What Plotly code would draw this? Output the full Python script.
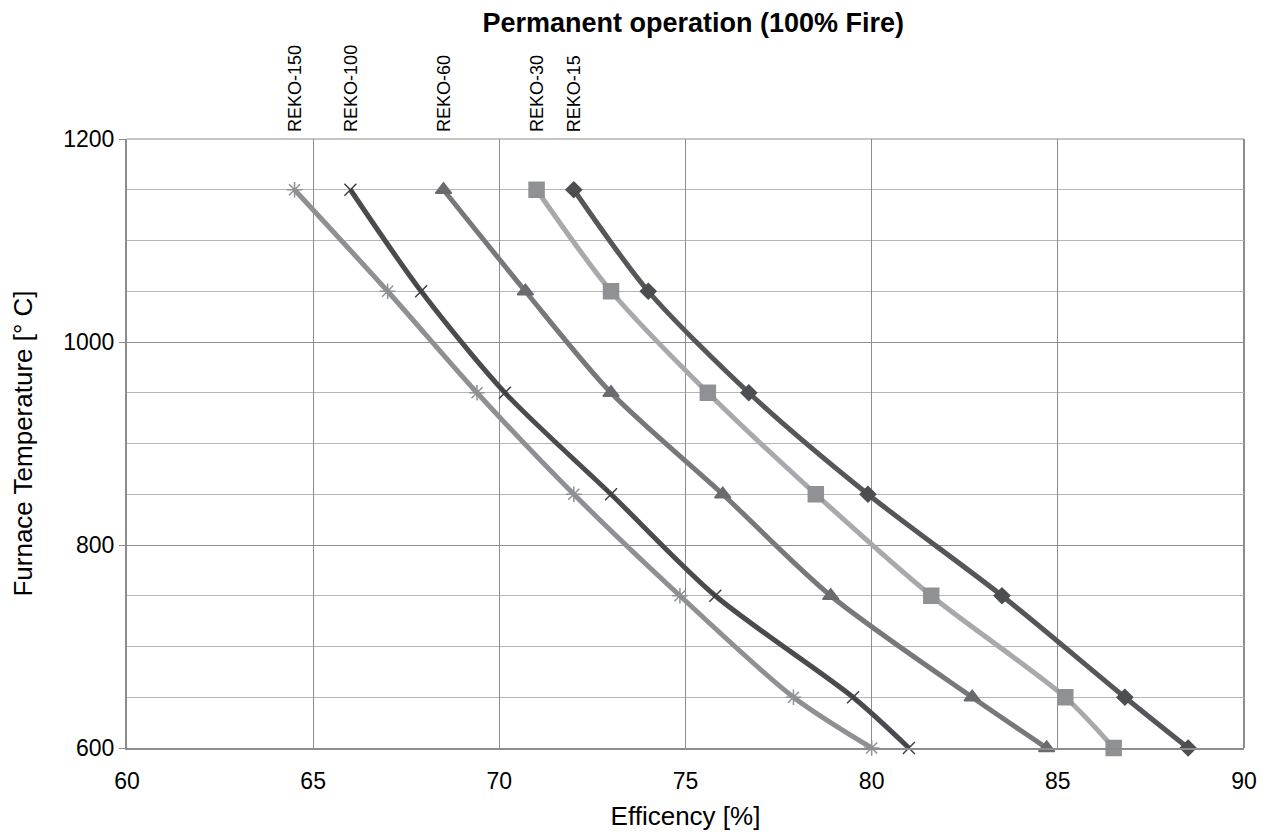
import plotly.graph_objects as go

temps = [1150, 1050, 950, 850, 750, 650, 600]
reko15 = [72.0, 74.0, 76.7, 79.9, 83.5, 86.8, 88.5]
reko30 = [71.0, 73.0, 75.6, 78.5, 81.6, 85.2, 86.5]
reko60 = [68.5, 70.7, 73.0, 76.0, 78.9, 82.7, 84.7]
reko100 = [66.0, 67.9, 70.15, 73.0, 75.8, 79.5, 81.0]
reko150 = [64.5, 67.0, 69.4, 72.0, 74.85, 77.9, 80.0]
names = ["REKO-15", "REKO-30", "REKO-60", "REKO-100", "REKO-150"]

series = [reko15, reko30, reko60, reko100, reko150]
line_colors = ["#55565a", "#a7a9ac", "#77787b", "#4a4b4e", "#8e9093"]
marker_colors = ["#4d4e52", "#8f9194", "#6a6b6e", "#3e3f42", "#8e9093"]
symbols = ["diamond", "square", "triangle-up", "x-thin-open", "asterisk-open"]
sizes = [12, 15, 14, 12, 13]

FONT = "Liberation Sans, Arial, sans-serif"

fig = go.Figure()
for name, xs, lc, mc, sym, sz in zip(names, series, line_colors, marker_colors, symbols, sizes):
    fig.add_trace(go.Scatter(
        x=xs, y=temps, name=name, mode="lines+markers", cliponaxis=False,
        line=dict(color=lc, width=5, shape="spline", smoothing=0.8),
        marker=dict(symbol=sym, size=sz, color=mc, line=dict(color=mc, width=1.5)),
        showlegend=False,
    ))

for name, xs in zip(names, series):
    fig.add_annotation(
        x=xs[0], y=1, xref="x", yref="paper", text=name, textangle=-90,
        showarrow=False, xanchor="center", yanchor="bottom", yshift=5,
        font=dict(family=FONT, size=18, color="#000"),
    )

fig.update_layout(
    width=1262, height=826,
    margin=dict(l=119, r=26, t=131, b=86),
    paper_bgcolor="white", plot_bgcolor="white",
    font=dict(family=FONT, color="#000"),
    title=dict(text="<b>Permanent operation (100% Fire)</b>", x=0.543, xanchor="center",
               xref="container", y=0.983, yanchor="middle", font=dict(size=27, color="#000")),
)
fig.update_xaxes(
    range=[60, 90], dtick=5, tickfont=dict(size=23), automargin=False,
    showgrid=True, gridcolor="#8d8d8f", gridwidth=1,
    showline=True, linecolor="#8d8d8f", linewidth=2, mirror=False,
    ticks="outside", ticklen=11, tickcolor="rgba(0,0,0,0)", zeroline=False,
    title=dict(text="Efficency [%]", font=dict(size=26), standoff=14),
)
fig.update_yaxes(
    range=[600, 1200], dtick=200, tickfont=dict(size=23), automargin=False,
    showgrid=True, gridcolor="#8d8d8f", gridwidth=1,
    showline=True, linecolor="#8d8d8f", linewidth=2,
    ticks="outside", ticklen=6, tickcolor="#8d8d8f", zeroline=False,
    minor=dict(dtick=50, showgrid=True, gridcolor="#b5b5b7", gridwidth=1),
    title=dict(text="Furnace Temperature [° C]", font=dict(size=26), standoff=28),
)
# right border and top line
fig.add_shape(type="line", xref="paper", yref="paper", x0=1, x1=1, y0=0, y1=1,
              line=dict(color="#8d8d8f", width=2), layer="below")
fig.add_shape(type="line", xref="paper", yref="paper", x0=0, x1=1, y0=1, y1=1,
              line=dict(color="#8d8d8f", width=1), layer="below")

fig.write_html("out.html")
